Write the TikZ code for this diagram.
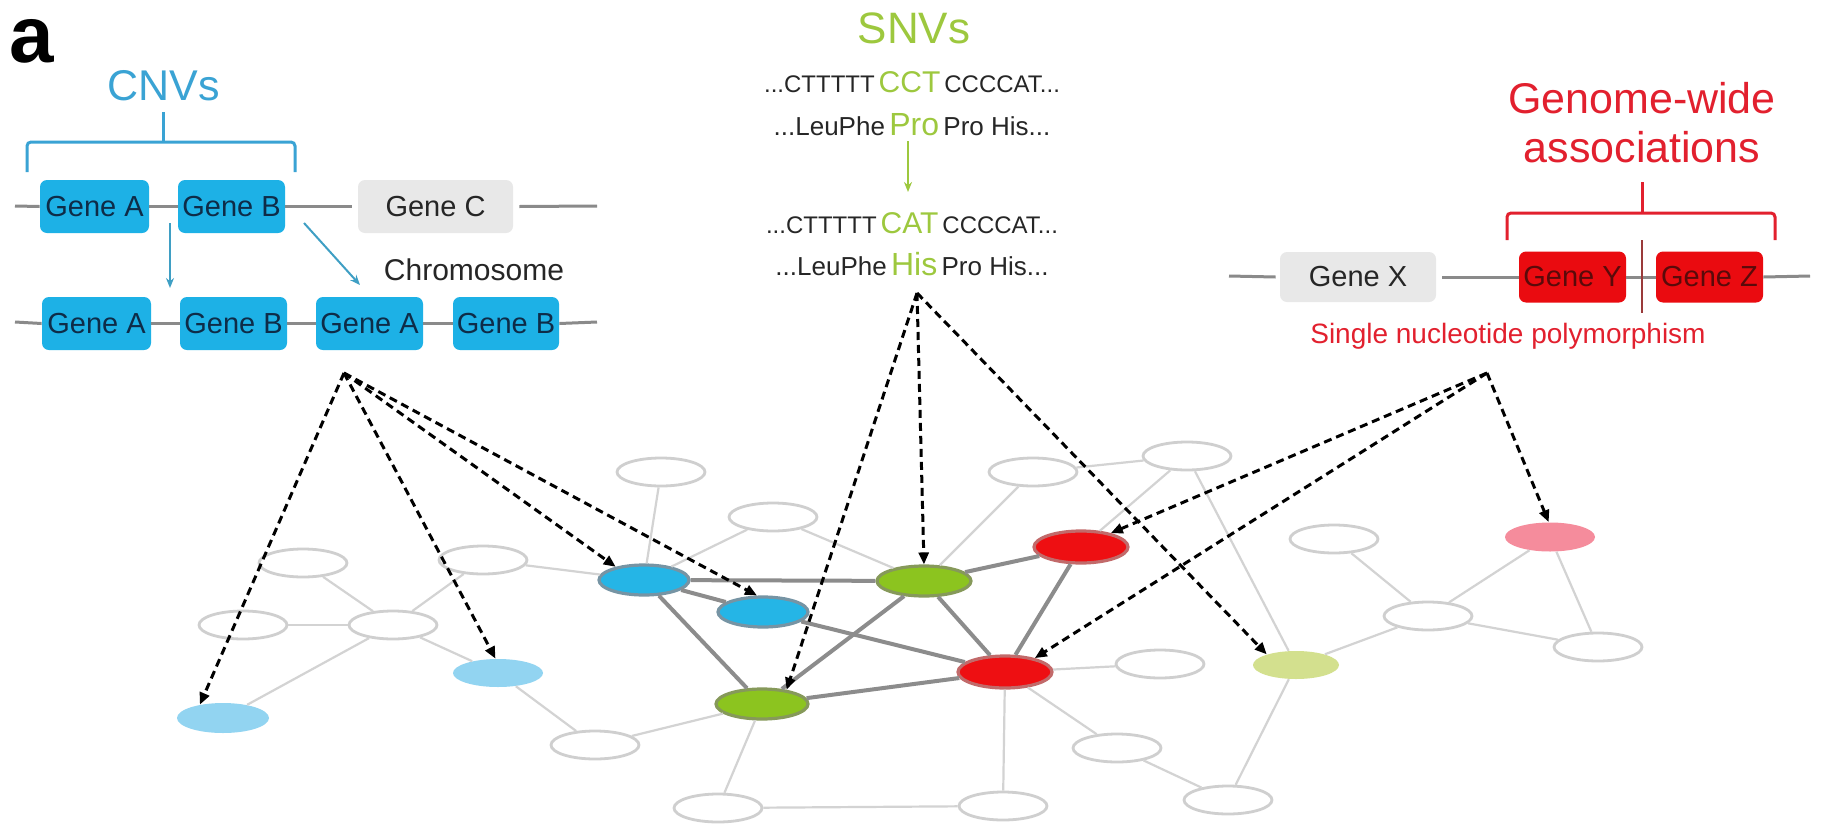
\documentclass[tikz,border=0pt]{standalone}
\usepackage{fontspec}
\setmainfont{Liberation Sans}
\usetikzlibrary{arrows.meta,calc,shapes.geometric}

\definecolor{cnvblue}{HTML}{3AA3D4}
\definecolor{cnvfill}{HTML}{1DB1E6}
\definecolor{genetext}{HTML}{0E2C48}
\definecolor{grayfill}{HTML}{E8E8E8}
\definecolor{darktext}{HTML}{262626}
\definecolor{chromgray}{HTML}{8A8A8A}
\definecolor{cnvarrow}{HTML}{3F9FC4}
\definecolor{snvgreen}{HTML}{9DC83E}
\definecolor{gwasred}{HTML}{E2202E}
\definecolor{boxred}{HTML}{EA0B10}
\definecolor{boxredtext}{HTML}{5A0A0A}
\definecolor{snpmark}{HTML}{9A3A3A}
\definecolor{nodegray}{HTML}{CFCFCF}
\definecolor{edgegray}{HTML}{D3D3D3}
\definecolor{coregray}{HTML}{8C8C8C}
\definecolor{coreblue}{HTML}{25B5E6}
\definecolor{coreblueline}{HTML}{7694A4}
\definecolor{coregreen}{HTML}{8CC41F}
\definecolor{coregreenline}{HTML}{86995A}
\definecolor{corered}{HTML}{EE0F12}
\definecolor{coreredline}{HTML}{C26A6A}
\definecolor{paleblue}{HTML}{92D4F1}
\definecolor{palegreen}{HTML}{D3E08E}
\definecolor{palepink}{HTML}{F58C9C}

\newcommand\seqfont{\fontsize{12}{12}\selectfont}
\newcommand\aafont{\fontsize{13}{13}\selectfont}
\newcommand\mutfont{\fontsize{15}{15}\selectfont\color{snvgreen}}

\tikzset{
  genebox/.style={rectangle, rounded corners=3.5pt, inner sep=0pt,
    minimum height=26.5pt, font=\fontsize{14.5}{15}\selectfont},
  cnvbox/.style={genebox, fill=cnvfill, text=genetext},
  graybox/.style={genebox, fill=grayfill, text=darktext},
  redbox/.style={genebox, fill=boxred, text=boxredtext},
  cnvbracket/.style={draw=cnvblue, line width=1.5pt},
  gwasbracket/.style={draw=gwasred, line width=1.5pt},
  chrom/.style={draw=chromgray, line width=1.5pt},
  copyarrow/.style={draw=cnvarrow, line width=1pt, -{Stealth[length=5pt,width=4pt]}},
  mutarrow/.style={draw=snvgreen, line width=1.2pt, -{Stealth[length=5pt,width=4pt]}},
  wnode/.style={ellipse, draw=nodegray, line width=1.4pt, fill=white,
    minimum width=44pt, minimum height=14pt, inner sep=0pt},
  corenode/.style={ellipse, line width=1.6pt, minimum width=45pt,
    minimum height=15pt, inner sep=0pt},
  bluecore/.style={corenode, fill=coreblue, draw=coreblueline},
  greencore/.style={corenode, fill=coregreen, draw=coregreenline},
  redcore/.style={corenode, fill=corered, draw=coreredline, minimum width=47pt, minimum height=16pt},
  softnode/.style={ellipse, minimum width=46pt, minimum height=15pt, inner sep=0pt},
  lightedge/.style={draw=edgegray, line width=1.1pt},
  coreedge/.style={draw=coregray, line width=2pt},
  link/.style={draw=black, line width=1.5pt, dash pattern=on 4pt off 2.5pt,
    -{Triangle[length=6pt,width=5pt]}},
}

\begin{document}
\begin{tikzpicture}[x=0.5pt,y=-0.5pt]
\useasboundingbox (0,0) rectangle (1821,825);
\fill[white] (0,0) rectangle (1821,825);

% panel letter
\node[font=\fontsize{40}{40}\selectfont\bfseries, anchor=base, inner sep=0pt] (panel) at (32,62) {a};

% ---------------- copy number variants ----------------
\node[font=\fontsize{21.5}{22}\selectfont, text=cnvblue, anchor=base, inner sep=0pt] (cnvt) at (164,100) {CNVs};
\draw[cnvbracket, rounded corners=2pt] (27,172) -- (27,142) -- (295,142) -- (295,172);
\draw[cnvbracket] (163,142) -- (163,112);

\node[cnvbox, minimum width=54.5pt] (tA) at (94.5,206.5) {Gene A};
\node[cnvbox, minimum width=53.5pt] (tB) at (231.5,206.5) {Gene B};
\node[graybox, minimum width=77.5pt] (tC) at (435.5,206.5) {Gene C};
\coordinate (chrTL) at (15,206);
\coordinate (chrTR) at (597,206);
\draw[chrom] (chrTL) -- (tA.west);
\draw[chrom] (tA.east) -- (tB.west);
\draw[chrom] (tB.east) -- ([xshift=-3pt]tC.west);
\draw[chrom] ([xshift=3pt]tC.east) -- (chrTR);

\node[font=\fontsize{15}{15}\selectfont, text=darktext, anchor=base, inner sep=0pt] (chromo) at (474,280) {Chromosome};

\node[cnvbox, minimum width=54.5pt] (bA1) at (96.5,323.5) {Gene A};
\node[cnvbox, minimum width=53.5pt] (bB1) at (233.5,323.5) {Gene B};
\node[cnvbox, minimum width=53.5pt] (bA2) at (369.5,323.5) {Gene A};
\node[cnvbox, minimum width=53pt] (bB2) at (506,323.5) {Gene B};
\coordinate (chrBL) at (15,322);
\coordinate (chrBR) at (597,322);
\draw[chrom] (chrBL) -- (bA1.west);
\draw[chrom] (bA1.east) -- (bB1.west);
\draw[chrom] (bB1.east) -- (bA2.west);
\draw[chrom] (bA2.east) -- (bB2.west);
\draw[chrom] (bB2.east) -- (chrBR);

\coordinate (cp1s) at (170,223);
\coordinate (cp1e) at (170,288);
\coordinate (cp2s) at (304,223);
\coordinate (cp2e) at (360,285);
\draw[copyarrow] (cp1s) -- (cp1e);
\draw[copyarrow] (cp2s) -- (cp2e);

% ---------------- single nucleotide variants ----------------
\node[font=\fontsize{22}{22}\selectfont, text=snvgreen, anchor=base, inner sep=0pt] (snvt) at (914,43) {SNVs};
\node[anchor=base, inner sep=0pt, text=darktext] (seq1) at (912,92)
  {\seqfont ...CTTTTT\,{\mutfont CCT}\,CCCCAT...};
\node[anchor=base, inner sep=0pt, text=darktext] (seq2) at (912,135)
  {\aafont ...LeuPhe\,{\mutfont\fontsize{16}{16}\selectfont Pro}\,Pro His...};
\node[anchor=base, inner sep=0pt, text=darktext] (seq3) at (912,233)
  {\seqfont ...CTTTTT\,{\mutfont CAT}\,CCCCAT...};
\node[anchor=base, inner sep=0pt, text=darktext] (seq4) at (912,275)
  {\aafont ...LeuPhe\,{\mutfont\fontsize{16}{16}\selectfont His}\,Pro His...};
\coordinate (mutS) at (908,141);
\coordinate (mutE) at (908,192);
\draw[mutarrow] (mutS) -- (mutE);

% ---------------- genome-wide associations ----------------
\node[font=\fontsize{21.5}{22}\selectfont, text=gwasred, anchor=base, inner sep=0pt] (gwt1) at (1642,113) {Genome-wide};
\node[font=\fontsize{21.5}{22}\selectfont, text=gwasred, anchor=base, inner sep=0pt] (gwt2) at (1642,162) {associations};
\draw[gwasbracket, rounded corners=2pt] (1507,240) -- (1507,213) -- (1775,213) -- (1775,240);
\draw[gwasbracket] (1642,213) -- (1642,182);

\node[graybox, minimum width=78pt, minimum height=25pt] (gX) at (1358,277) {Gene X};
\node[redbox, minimum width=53.5pt, minimum height=25.5pt] (gY) at (1572.5,277) {Gene Y};
\node[redbox, minimum width=53.5pt, minimum height=25.5pt] (gZ) at (1709.5,277) {Gene Z};
\coordinate (gwL) at (1229,276);
\coordinate (gwR) at (1810,276);
\draw[chrom] (gwL) -- ([xshift=-2pt]gX.west);
\draw[chrom] ([xshift=3pt]gX.east) -- (gY.west);
\draw[chrom] (gY.east) -- (gZ.west);
\draw[chrom] (gZ.east) -- (gwR);
\draw[draw=snpmark, line width=1.2pt] (1642,240) -- (1642,313);
\node[font=\fontsize{14}{14}\selectfont, text=gwasred, anchor=base, inner sep=0pt] (snp) at (1508,343) {Single nucleotide polymorphism};

% ---------------- interaction network ----------------
\node[wnode] (w1) at (303,563) {};
\node[wnode] (w2) at (243,625) {};
\node[wnode] (w3) at (393,625) {};
\node[wnode] (w4) at (483,560) {};
\node[wnode] (w5) at (661,472) {};
\node[wnode] (w6) at (773,517) {};
\node[wnode] (w8) at (595,745) {};
\node[wnode] (w10) at (1033,472) {};
\node[wnode] (w11) at (1187,456) {};
\node[wnode] (w12) at (1160,664) {};
\node[wnode] (w13) at (1334,539) {};
\node[wnode] (w14) at (1117,748) {};
\node[wnode] (w15) at (1428,616) {};
\node[wnode] (w16) at (1598,647) {};
\node[wnode] (w17) at (1228,800) {};
\node[wnode] (w18) at (718,808) {};
\node[wnode] (w19) at (1003,806) {};

\node[softnode, fill=paleblue] (lb1) at (223,718) {};
\node[softnode, fill=paleblue, minimum width=45pt, minimum height=14pt] (lb2) at (498,673) {};
\node[softnode, fill=palegreen, minimum width=43pt, minimum height=14pt] (lg) at (1296,665) {};
\node[softnode, fill=palepink, minimum width=45pt, minimum height=14.5pt] (pk) at (1550,537) {};

\node[bluecore] (b1) at (644,580) {};
\node[bluecore] (b2) at (763,612) {};
\node[greencore, minimum width=47pt] (g1) at (924,581) {};
\node[greencore, minimum width=46pt] (g2) at (762,704) {};
\node[redcore] (r1) at (1081,547) {};
\node[redcore] (r2) at (1005,672) {};

% peripheral links
\foreach \a/\b in {w1/w3, w2/w3, w3/w4, w3/lb1, w3/lb2, w4/b1, lb2/w8,
    w5/b1, w6/b1, w6/g1, w10/g1, w10/w11, w11/r1, w11/lg, r2/w12, r2/w19,
    r2/w14, g2/w8, g2/w18, w18/w19, w14/w17, lg/w17, lg/w15, w13/w15,
    pk/w15, pk/w16, w15/w16}
  \draw[lightedge] (\a) -- (\b);

% core links
\foreach \a/\b in {b1/g1, b1/b2, b1/g2, b2/r2, g1/g2, g1/r2, g1/r1, r1/r2, g2/r2}
  \draw[coreedge] (\a) -- (\b);

% variant-to-gene mappings
\coordinate (oCNV) at (344,373);
\coordinate (oSNV) at (917,293);
\coordinate (oGWAS) at (1487,373);
\draw[link] (oCNV) -- (lb1.150);
\draw[link] (oCNV) -- (lb2.100);
\draw[link] (oCNV) -- (b1.155);
\draw[link] (oCNV) -- (b2.110);
\draw[link] (oSNV) -- (g2.30);
\draw[link] (oSNV) -- (g1.north);
\draw[link] (oSNV) -- (lg.160);
\draw[link] (oGWAS) -- (r1.25);
\draw[link] (oGWAS) -- (r2.25);
\draw[link] (oGWAS) -- (pk.95);
\end{tikzpicture}
\end{document}
